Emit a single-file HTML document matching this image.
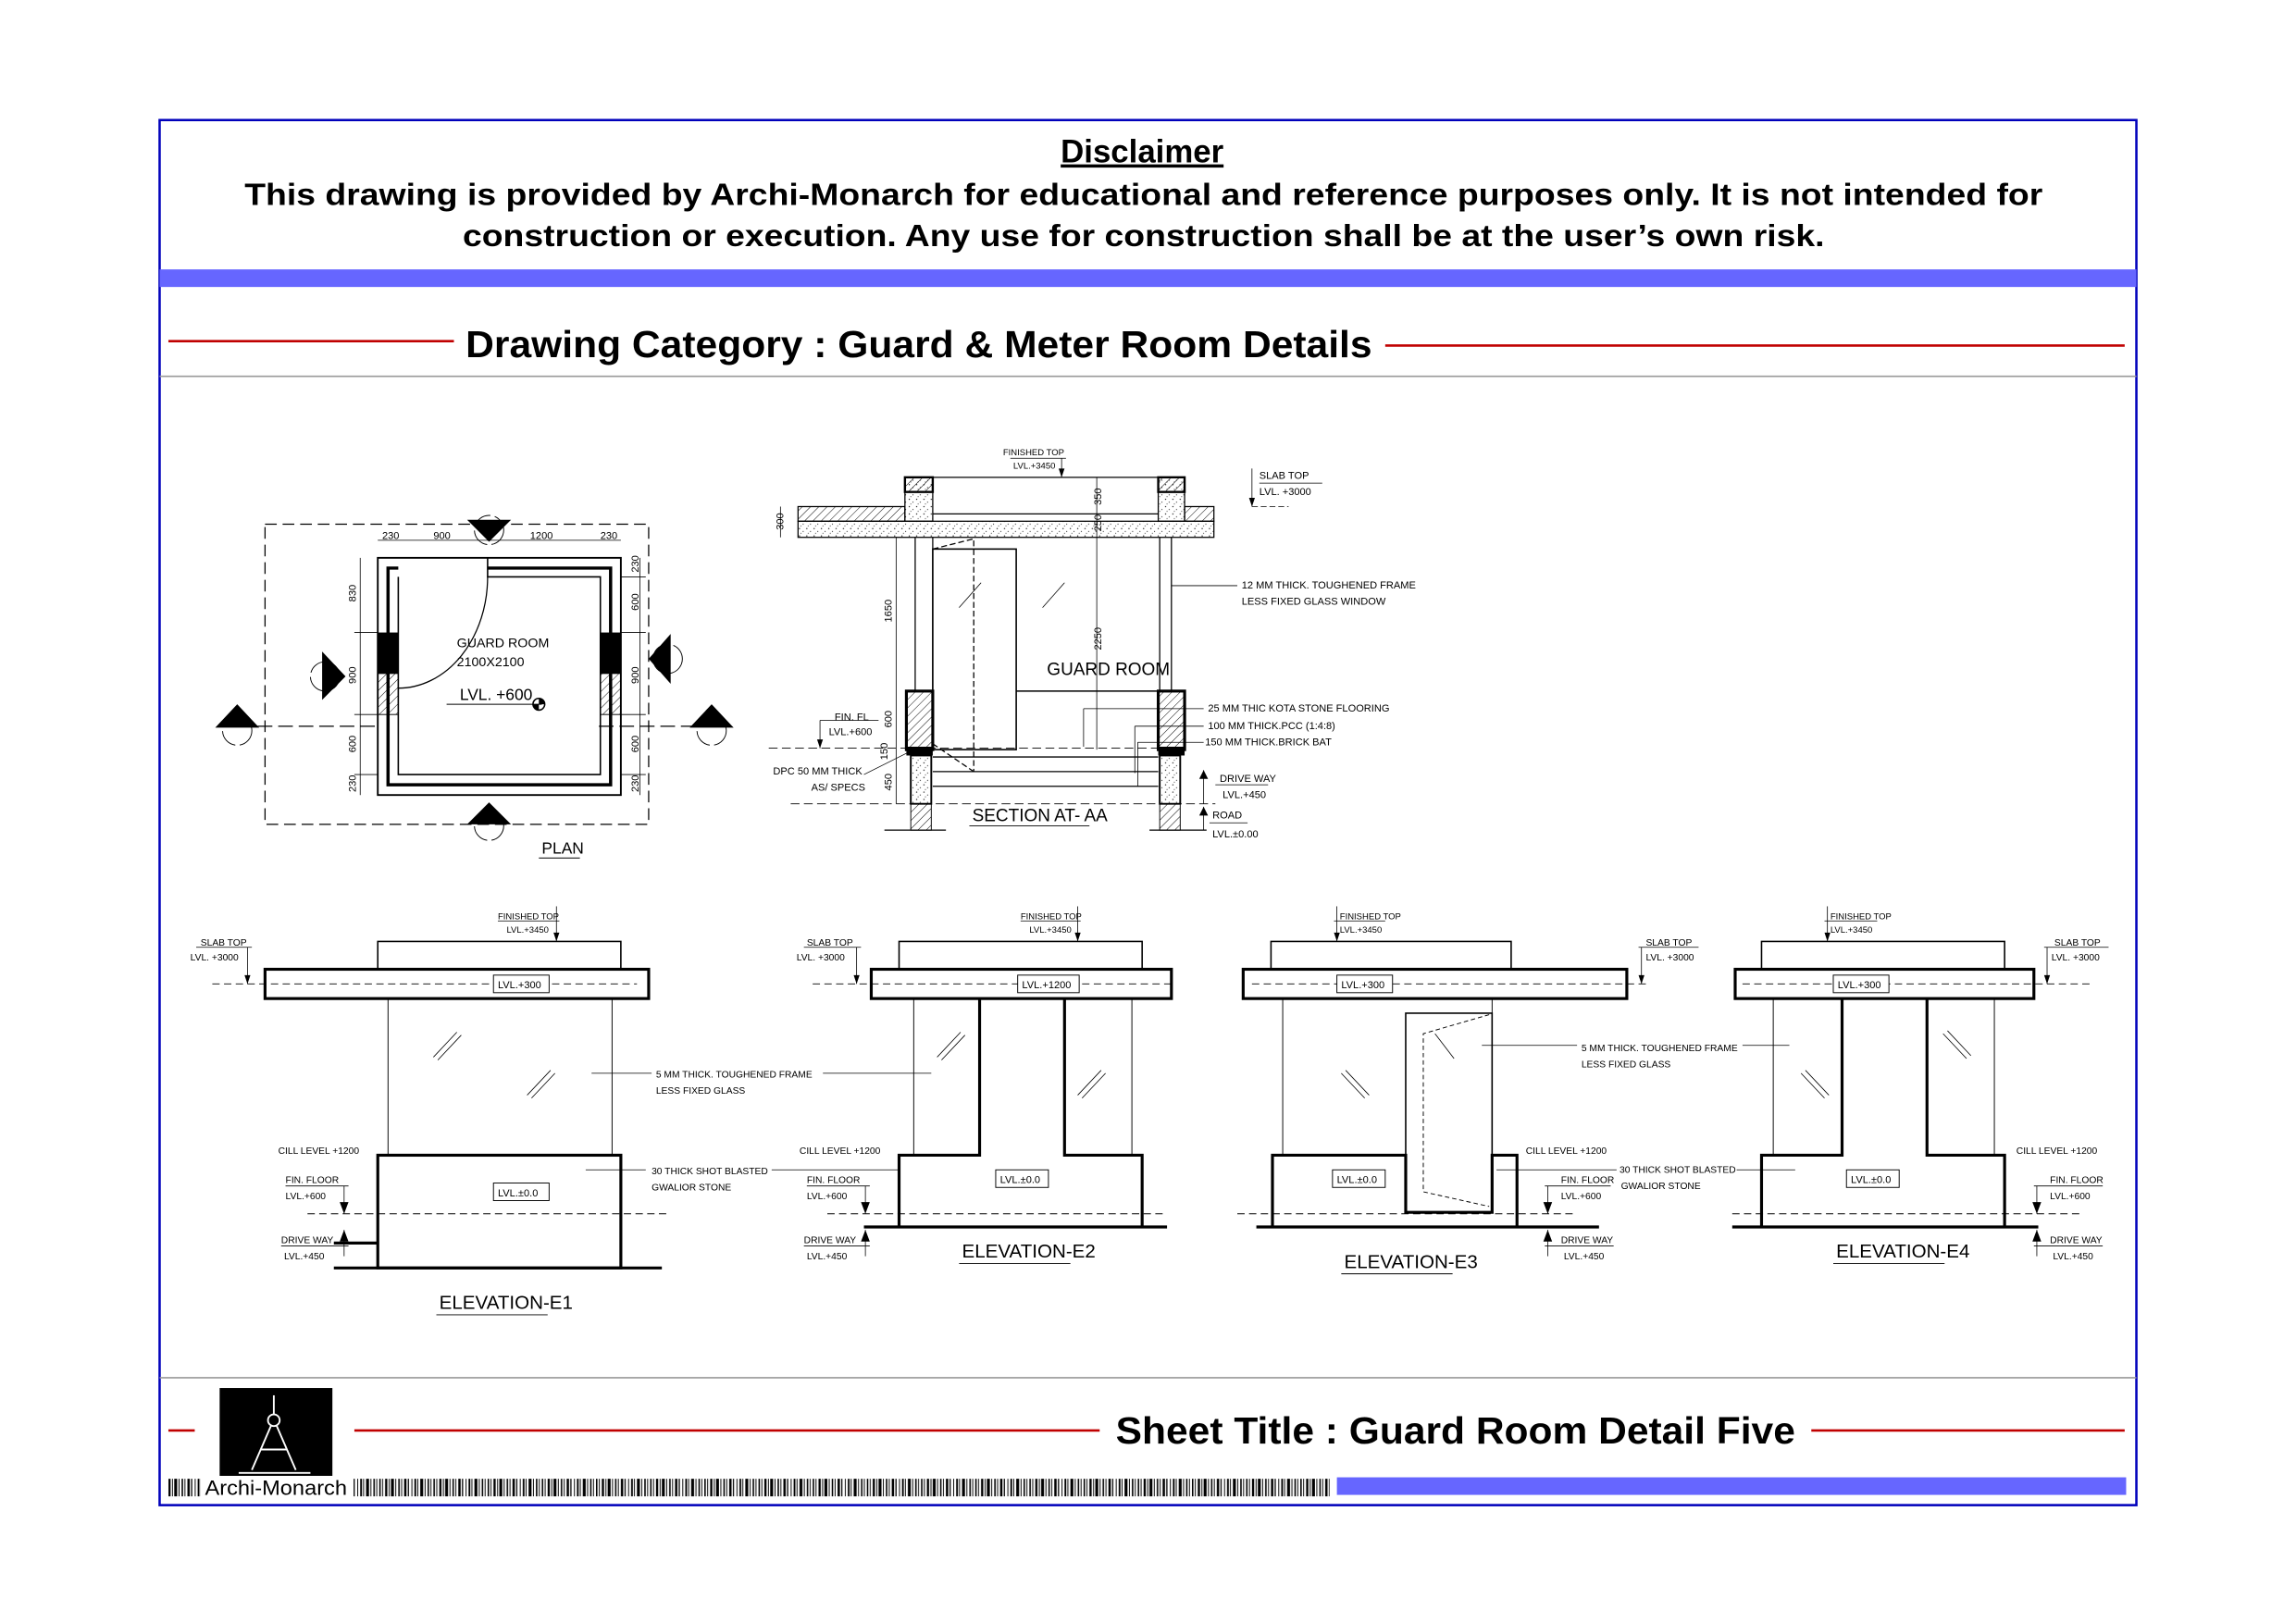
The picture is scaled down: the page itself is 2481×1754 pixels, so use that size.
<!DOCTYPE html>
<html><head><meta charset="utf-8"><style>
html,body{margin:0;padding:0;background:#fff;}
svg{display:block;}
text{font-family:"Liberation Sans Narrow","Liberation Sans",sans-serif;fill:#000;}
.b{font-family:"Liberation Sans",sans-serif;font-weight:bold;}
.s{font-size:7px;}
.m{font-size:9px;}
.l{font-size:12px;}
.k{stroke:#000;fill:none;}
</style></head><body>
<svg width="2481" height="1754" viewBox="0 0 1568 1108.5" preserveAspectRatio="none" xmlns="http://www.w3.org/2000/svg">
<defs>
<pattern id="h" width="4" height="4" patternUnits="userSpaceOnUse" patternTransform="rotate(45)"><line x1="0" y1="0" x2="0" y2="4" stroke="#000" stroke-width="0.6"/></pattern>
<pattern id="c" width="5" height="5" patternUnits="userSpaceOnUse"><circle cx="1" cy="1" r="0.4"/><circle cx="3.5" cy="3" r="0.35"/><circle cx="2" cy="4.2" r="0.3"/></pattern>
<pattern id="bc" width="37" height="12" patternUnits="userSpaceOnUse">
<rect x="0" width="1" height="12"/><rect x="2" width="0.6" height="12"/><rect x="4" width="1.5" height="12"/><rect x="6.5" width="0.6" height="12"/><rect x="8" width="2" height="12"/><rect x="11" width="0.6" height="12"/><rect x="13" width="1" height="12"/><rect x="15" width="0.6" height="12"/><rect x="17" width="1.6" height="12"/><rect x="19.5" width="0.8" height="12"/><rect x="22" width="0.6" height="12"/><rect x="24" width="1.2" height="12"/><rect x="26" width="0.6" height="12"/><rect x="28" width="2" height="12"/><rect x="31" width="0.6" height="12"/><rect x="33" width="1" height="12"/><rect x="35" width="0.6" height="12"/></pattern>
</defs>
<rect width="1568" height="1108.5" fill="#fff"/>
<!-- frame -->
<rect x="109" y="82" width="1350" height="946" fill="none" stroke="#0000bb" stroke-width="1.6"/>
<text x="780" y="111" class="b" font-size="22" text-anchor="middle" text-decoration="underline">Disclaimer</text>
<text x="781" y="140" class="b" font-size="21" text-anchor="middle" textLength="1228" lengthAdjust="spacingAndGlyphs">This drawing is provided by Archi-Monarch for educational and reference purposes only. It is not intended for</text>
<text x="781" y="168" class="b" font-size="21" text-anchor="middle" textLength="930" lengthAdjust="spacingAndGlyphs">construction or execution. Any use for construction shall be at the user’s own risk.</text>
<rect x="109" y="184" width="1350" height="12" fill="#6666ff"/>
<line x1="115" y1="233" x2="310" y2="233" stroke="#c00000" stroke-width="1.6"/>
<line x1="946" y1="236" x2="1451" y2="236" stroke="#c00000" stroke-width="1.6"/>
<text x="318" y="244" class="b" font-size="26" textLength="619" lengthAdjust="spacingAndGlyphs">Drawing Category : Guard &amp; Meter Room Details</text>
<line x1="109" y1="257" x2="1459" y2="257" stroke="#999" stroke-width="1"/>
<!-- bottom -->
<line x1="109" y1="941" x2="1459" y2="941" stroke="#999" stroke-width="1"/>
<rect x="150" y="948" width="77" height="60" fill="#000"/>
<g stroke="#fff" stroke-width="1.2" fill="none"><line x1="187" y1="953" x2="187" y2="966"/><circle cx="187" cy="970" r="4"/><line x1="185" y1="974" x2="172" y2="1004"/><line x1="189" y1="974" x2="202" y2="1004"/><line x1="178" y1="990" x2="196" y2="990"/><line x1="163" y1="1006" x2="212" y2="1006"/></g>
<line x1="115" y1="977" x2="133" y2="977" stroke="#c00000" stroke-width="1.6"/>
<line x1="242" y1="977" x2="751" y2="977" stroke="#c00000" stroke-width="1.6"/>
<line x1="1237" y1="977" x2="1451" y2="977" stroke="#c00000" stroke-width="1.6"/>
<text x="762" y="986" class="b" font-size="26" textLength="464" lengthAdjust="spacingAndGlyphs">Sheet Title : Guard Room Detail Five</text>
<rect x="115" y="1010" width="22" height="12" fill="url(#bc)"/>
<rect x="241" y="1010" width="667" height="12" fill="url(#bc)"/>
<text x="140" y="1021" font-size="14" textLength="97" lengthAdjust="spacingAndGlyphs">Archi-Monarch</text>
<rect x="913" y="1009" width="539" height="12" fill="#6666ff"/>

<!-- PLAN -->
<g stroke="#000" fill="none">
<rect x="181" y="358" width="262" height="205" stroke-dasharray="8,4" stroke-width="0.8"/>
<rect x="258" y="381" width="166" height="162" stroke-width="1.2"/>
<path d="M333 381 V394 H410 V529 H272 V394" stroke-width="1"/>
<path d="M333 388 H417 V536 H265 V388 H272" stroke-width="2.2"/>
<path d="M333 394 A61 76 0 0 1 272 470" stroke-width="0.8"/>
</g>
<rect x="258" y="432" width="14" height="28" fill="#000"/>
<rect x="410" y="432" width="14" height="28" fill="#000"/>
<rect x="258" y="460" width="14" height="28" fill="url(#h)" stroke="#000" stroke-width="0.6"/>
<rect x="410" y="460" width="14" height="28" fill="url(#h)" stroke="#000" stroke-width="0.6"/>
<g stroke="#000" stroke-width="0.5"><line x1="258" y1="369" x2="424" y2="369"/><line x1="246" y1="381" x2="246" y2="543"/><line x1="437" y1="381" x2="437" y2="543"/><line x1="242" y1="432" x2="258" y2="432"/><line x1="242" y1="488" x2="258" y2="488"/><line x1="242" y1="529" x2="258" y2="529"/><line x1="424" y1="394" x2="441" y2="394"/><line x1="424" y1="432" x2="441" y2="432"/><line x1="424" y1="488" x2="441" y2="488"/><line x1="424" y1="529" x2="441" y2="529"/></g>
<g class="s" font-size="7"><text x="261" y="368" font-size="7">230</text><text x="296" y="368" font-size="7">900</text><text x="362" y="368" font-size="7">1200</text><text x="410" y="368" font-size="7">230</text></g>
<g font-size="7"><text transform="translate(243,411) rotate(-90)">830</text><text transform="translate(243,467) rotate(-90)">900</text><text transform="translate(243,514) rotate(-90)">600</text><text transform="translate(243,541) rotate(-90)">230</text>
<text transform="translate(436,391) rotate(-90)">230</text><text transform="translate(436,417) rotate(-90)">600</text><text transform="translate(436,467) rotate(-90)">900</text><text transform="translate(436,514) rotate(-90)">600</text><text transform="translate(436,541) rotate(-90)">230</text></g>
<text x="312" y="442" class="m">GUARD ROOM</text><text x="312" y="455" class="m">2100X2100</text>
<text x="314" y="478" font-size="11">LVL. +600</text><line x1="305" y1="481" x2="370" y2="481" stroke="#000" stroke-width="0.6"/>
<circle cx="368" cy="481" r="4" fill="none" stroke="#000"/><path d="M368 477 A4 4 0 0 1 372 481 H368Z M368 485 A4 4 0 0 1 364 481 H368Z"/>
<text x="370" y="583" font-size="11">PLAN</text><line x1="368" y1="586" x2="396" y2="586" stroke="#000" stroke-width="0.6"/>
<g stroke="#000" stroke-width="0.8" stroke-dasharray="10,4" fill="none"><line x1="176" y1="496" x2="258" y2="496"/><line x1="409" y1="496" x2="480" y2="496"/></g>
<!-- markers -->
<g font-size="6" font-weight="bold" text-anchor="middle">
<path d="M147 497 L162 481 L177 497Z"/><circle cx="162" cy="499" r="10" fill="none" stroke="#000" stroke-width="0.6" stroke-dasharray="14,3"/><text x="162" y="495" fill="#fff">A</text>
<path d="M471 497 L486 481 L501 497Z"/><circle cx="486" cy="499" r="10" fill="none" stroke="#000" stroke-width="0.6" stroke-dasharray="14,3"/><text x="486" y="495" fill="#fff">A</text>
<path d="M319 355 L349 355 L334 370Z"/><circle cx="334" cy="362" r="10" fill="none" stroke="#000" stroke-width="0.6" stroke-dasharray="14,3"/><text x="334" y="362" fill="#fff">E-3</text>
<path d="M319 563 L349 563 L334 548Z"/><circle cx="334" cy="564" r="10" fill="none" stroke="#000" stroke-width="0.6" stroke-dasharray="14,3"/><text x="334" y="560" fill="#fff">E-1</text>
<path d="M220 445 L220 478 L236 462Z"/><circle cx="222" cy="462" r="10" fill="none" stroke="#000" stroke-width="0.6" stroke-dasharray="14,3"/><text transform="translate(227,462) rotate(90)" fill="#fff">E-2</text>
<path d="M458 433 L458 467 L443 450Z"/><circle cx="456" cy="450" r="10" fill="none" stroke="#000" stroke-width="0.6" stroke-dasharray="14,3"/><text transform="translate(452,450) rotate(-90)" fill="#fff">E-4</text>
</g>

<!-- SECTION -->
<rect x="545" y="346" width="73" height="10" fill="url(#h)" stroke="#000" stroke-width="0.8"/>
<rect x="809" y="346" width="20" height="10" fill="url(#h)" stroke="#000" stroke-width="0.8"/>
<rect x="545" y="356" width="284" height="11" fill="url(#c)" stroke="#000" stroke-width="0.8"/>
<rect x="618" y="326" width="19" height="30" fill="url(#c)" stroke="#000" stroke-width="0.8"/>
<rect x="791" y="326" width="18" height="30" fill="url(#c)" stroke="#000" stroke-width="0.8"/>
<rect x="618" y="326" width="19" height="10" fill="url(#h)" stroke="#000" stroke-width="1.5"/>
<rect x="791" y="326" width="18" height="10" fill="url(#h)" stroke="#000" stroke-width="1.5"/>
<g stroke="#000" fill="none" stroke-width="0.8">
<line x1="637" y1="326" x2="791" y2="326"/><line x1="637" y1="351" x2="791" y2="351"/>
<line x1="625" y1="367" x2="625" y2="472"/><line x1="637" y1="367" x2="637" y2="472"/>
<line x1="792" y1="367" x2="792" y2="472"/><line x1="800" y1="367" x2="800" y2="472"/>
<rect x="637" y="375" width="57" height="137" stroke-width="1"/>
<line x1="694" y1="472" x2="791" y2="472" stroke-width="1"/>
<line x1="637" y1="517" x2="791" y2="517"/><line x1="637" y1="527" x2="791" y2="527"/><line x1="637" y1="537" x2="791" y2="537"/>
<path d="M637 375 L665 368 V527" stroke-dasharray="4,2"/><path d="M637 508 L665 527" stroke-dasharray="4,2"/>
<line x1="525" y1="511" x2="791" y2="511" stroke-dasharray="6,3" stroke-width="0.6"/>
<line x1="540" y1="549" x2="830" y2="549" stroke-dasharray="6,3" stroke-width="0.6"/>
</g>
<rect x="619" y="472" width="18" height="40" fill="url(#h)" stroke="#000" stroke-width="2"/>
<rect x="791" y="472" width="18" height="40" fill="url(#h)" stroke="#000" stroke-width="2"/>
<rect x="619" y="510" width="18" height="6" fill="#000"/><rect x="791" y="510" width="18" height="6" fill="#000"/>
<rect x="622" y="516" width="14" height="33" fill="url(#c)" stroke="#000" stroke-width="1.2"/>
<rect x="792" y="516" width="14" height="33" fill="url(#c)" stroke="#000" stroke-width="1.2"/>
<rect x="622" y="549" width="14" height="18" fill="url(#h)" stroke="#000" stroke-width="0.6"/>
<rect x="792" y="549" width="14" height="18" fill="url(#h)" stroke="#000" stroke-width="0.6"/>
<line x1="604" y1="567" x2="646" y2="567" stroke="#000" stroke-width="0.8"/><line x1="785" y1="567" x2="824" y2="567" stroke="#000" stroke-width="0.8"/>
<g stroke="#000" stroke-width="0.5"><line x1="612" y1="367" x2="612" y2="549"/><line x1="749" y1="326" x2="749" y2="512"/><line x1="533" y1="346" x2="533" y2="367"/>
<line x1="800" y1="400" x2="845" y2="400"/><line x1="740" y1="484" x2="822" y2="484"/><line x1="740" y1="484" x2="740" y2="510"/><line x1="775" y1="496" x2="822" y2="496"/><line x1="775" y1="496" x2="775" y2="528"/><line x1="777" y1="507" x2="822" y2="507"/><line x1="777" y1="507" x2="777" y2="537"/>
<line x1="725" y1="313" x2="725" y2="326"/><line x1="690" y1="313" x2="728" y2="313"/><line x1="860" y1="330" x2="903" y2="330"/><line x1="855" y1="320" x2="855" y2="346"/><line x1="855" y1="346" x2="880" y2="346" stroke-dasharray="4,2"/>
<line x1="560" y1="492" x2="600" y2="492"/><line x1="560" y1="492" x2="560" y2="511"/><line x1="822" y1="526" x2="822" y2="549"/><line x1="830" y1="536" x2="866" y2="536"/><line x1="822" y1="551" x2="822" y2="567"/><line x1="826" y1="562" x2="852" y2="562"/><line x1="590" y1="529" x2="620" y2="514"/></g>
<g font-size="7">
<text x="685" y="311" font-size="6">FINISHED TOP</text><text x="692" y="320" font-size="6">LVL.+3450</text>
<text x="860" y="327">SLAB TOP</text><text x="860" y="338">LVL. +3000</text>
<text transform="translate(535,362) rotate(-90)">300</text><text transform="translate(609,425) rotate(-90)">1650</text><text transform="translate(609,497) rotate(-90)">600</text><text transform="translate(606,519) rotate(-90)">150</text><text transform="translate(609,540) rotate(-90)">450</text>
<text transform="translate(752,345) rotate(-90)">350</text><text transform="translate(752,363) rotate(-90)">250</text><text transform="translate(752,444) rotate(-90)">2250</text>
<text x="848" y="402">12 MM THICK. TOUGHENED FRAME</text><text x="848" y="413">LESS FIXED GLASS WINDOW</text>
<text x="825" y="486">25 MM THIC KOTA STONE FLOORING</text><text x="825" y="498">100 MM THICK.PCC (1:4:8)</text><text x="823" y="509">150 MM THICK.BRICK BAT</text>
<text x="833" y="534">DRIVE WAY</text><text x="835" y="545">LVL.+450</text><text x="828" y="559">ROAD</text><text x="828" y="572">LVL.±0.00</text>
<text x="570" y="492">FIN. FL</text><text x="566" y="502">LVL.+600</text><text x="528" y="529">DPC 50 MM THICK</text><text x="554" y="540">AS/ SPECS</text>
</g>
<text x="715" y="461" class="l">GUARD ROOM</text>
<text x="664" y="561" class="l">SECTION AT- AA</text><line x1="662" y1="564" x2="744" y2="564" stroke="#000" stroke-width="0.6"/>

<!-- ELEVATIONS -->
<g stroke="#000" fill="none">
<!-- E1 -->
<rect x="258" y="643" width="166" height="19" stroke-width="1"/>
<rect x="181" y="662" width="262" height="20" stroke-width="2"/>
<line x1="265" y1="682" x2="265" y2="789" stroke-width="0.6"/><line x1="418" y1="682" x2="418" y2="789" stroke-width="0.6"/>
<rect x="258" y="789" width="166" height="77" stroke-width="2"/>
<line x1="228" y1="866" x2="452" y2="866" stroke-width="2"/><line x1="228" y1="849" x2="258" y2="849" stroke-width="2"/>
<line x1="145" y1="672" x2="435" y2="672" stroke-dasharray="5,3" stroke-width="0.6"/><line x1="210" y1="829" x2="455" y2="829" stroke-dasharray="5,3" stroke-width="0.6"/>
<!-- E2 -->
<rect x="614" y="643" width="166" height="19" stroke-width="1"/>
<rect x="595" y="662" width="205" height="20" stroke-width="2"/>
<line x1="624" y1="682" x2="624" y2="789" stroke-width="0.6"/><line x1="773" y1="682" x2="773" y2="789" stroke-width="0.6"/>
<path d="M614 838 V789 H669 V682 M727 682 V789 H780 V838" stroke-width="2"/>
<line x1="590" y1="838" x2="797" y2="838" stroke-width="2"/>
<line x1="555" y1="672" x2="800" y2="672" stroke-dasharray="5,3" stroke-width="0.6"/><line x1="565" y1="829" x2="797" y2="829" stroke-dasharray="5,3" stroke-width="0.6"/>
<!-- E3 -->
<rect x="868" y="643" width="164" height="19" stroke-width="1"/>
<rect x="849" y="662" width="262" height="20" stroke-width="2"/>
<line x1="876" y1="682" x2="876" y2="789" stroke-width="0.6"/><line x1="1019" y1="682" x2="1019" y2="789" stroke-width="0.6"/>
<rect x="960" y="692" width="59" height="136" stroke-width="1"/>
<path d="M869 838 V789 H960 V828 H1019 V789 H1036 V838" stroke-width="2"/>
<line x1="858" y1="838" x2="1092" y2="838" stroke-width="2"/>
<path d="M1017 693 L972 706 V814 L1017 824" stroke-dasharray="3,2" stroke-width="0.6"/>
<line x1="855" y1="672" x2="1125" y2="672" stroke-dasharray="5,3" stroke-width="0.6"/><line x1="845" y1="829" x2="1075" y2="829" stroke-dasharray="5,3" stroke-width="0.6"/>
<!-- E4 -->
<rect x="1203" y="643" width="166" height="19" stroke-width="1"/>
<rect x="1185" y="662" width="204" height="20" stroke-width="2"/>
<line x1="1211" y1="682" x2="1211" y2="789" stroke-width="0.6"/><line x1="1362" y1="682" x2="1362" y2="789" stroke-width="0.6"/>
<path d="M1203 838 V789 H1258 V682 M1316 682 V789 H1369 V838" stroke-width="2"/>
<line x1="1183" y1="838" x2="1392" y2="838" stroke-width="2"/>
<line x1="1190" y1="672" x2="1430" y2="672" stroke-dasharray="5,3" stroke-width="0.6"/><line x1="1183" y1="829" x2="1420" y2="829" stroke-dasharray="5,3" stroke-width="0.6"/>
<!-- glass ticks -->
<g stroke-width="0.5"><path d="M296 722 L312 705 M299 724 L315 707 M360 748 L376 731 M363 750 L379 733 M640 722 L656 705 M643 724 L659 707 M736 748 L752 731 M739 750 L755 733 M916 733 L932 750 M919 731 L935 748 M980 706 L993 723 M1230 733 L1246 750 M1233 731 L1249 748 M1327 706 L1343 723 M1330 704 L1346 721 M655 415 L670 398 M712 415 L727 398"/></g>
<!-- leaders -->
<g stroke-width="0.5"><line x1="404" y1="733" x2="445" y2="733"/><line x1="562" y1="733" x2="636" y2="733"/><line x1="400" y1="799" x2="441" y2="799"/><line x1="527" y1="799" x2="614" y2="799"/>
<line x1="1012" y1="714" x2="1077" y2="714"/><line x1="1190" y1="714" x2="1222" y2="714"/><line x1="1022" y1="799" x2="1104" y2="799"/><line x1="1186" y1="799" x2="1226" y2="799"/>
<line x1="380" y1="619" x2="380" y2="643"/><line x1="340" y1="629" x2="382" y2="629"/><line x1="736" y1="619" x2="736" y2="643"/><line x1="697" y1="629" x2="738" y2="629"/><line x1="913" y1="619" x2="913" y2="643"/><line x1="911" y1="629" x2="946" y2="629"/><line x1="1248" y1="619" x2="1248" y2="643"/><line x1="1246" y1="629" x2="1282" y2="629"/>
<line x1="169" y1="647" x2="169" y2="672"/><line x1="134" y1="647" x2="172" y2="647"/><line x1="585" y1="647" x2="585" y2="672"/><line x1="549" y1="647" x2="588" y2="647"/><line x1="1121" y1="647" x2="1121" y2="672"/><line x1="1119" y1="647" x2="1160" y2="647"/><line x1="1398" y1="647" x2="1398" y2="672"/><line x1="1396" y1="647" x2="1440" y2="647"/>
<line x1="235" y1="810" x2="235" y2="829"/><line x1="195" y1="810" x2="238" y2="810"/><line x1="591" y1="810" x2="591" y2="829"/><line x1="551" y1="810" x2="594" y2="810"/><line x1="1057" y1="810" x2="1057" y2="829"/><line x1="1055" y1="810" x2="1100" y2="810"/><line x1="1391" y1="810" x2="1391" y2="829"/><line x1="1389" y1="810" x2="1436" y2="810"/>
<line x1="235" y1="840" x2="235" y2="858"/><line x1="192" y1="851" x2="238" y2="851"/><line x1="591" y1="840" x2="591" y2="858"/><line x1="549" y1="851" x2="594" y2="851"/><line x1="1057" y1="840" x2="1057" y2="858"/><line x1="1055" y1="851" x2="1102" y2="851"/><line x1="1391" y1="840" x2="1391" y2="858"/><line x1="1389" y1="851" x2="1436" y2="851"/></g>
</g>
<!-- arrowheads -->
<g><path d="M378 637 L382 637 L380 643Z M734 637 L738 637 L736 643Z M911 637 L915 637 L913 643Z M1246 637 L1250 637 L1248 643Z M167 666 L171 666 L169 672Z M583 666 L587 666 L585 672Z M1119 666 L1123 666 L1121 672Z M1396 666 L1400 666 L1398 672Z M232 821 L238 821 L235 829Z M588 821 L594 821 L591 829Z M1054 821 L1060 821 L1057 829Z M1388 821 L1394 821 L1391 829Z M232 848 L238 848 L235 840Z M588 848 L594 848 L591 840Z M1054 848 L1060 848 L1057 840Z M1388 848 L1394 848 L1391 840Z M723 320 L727 320 L725 326Z M853 340 L857 340 L855 346Z M558 505 L562 505 L560 511Z M819 532 L825 532 L822 526Z M819 557 L825 557 L822 551Z"/></g>
<g font-size="6.5">
<text x="137" y="646">SLAB TOP</text><text x="130" y="656">LVL. +3000</text><text x="340" y="628" font-size="6">FINISHED TOP</text><text x="346" y="637" font-size="6">LVL.+3450</text>
<text x="190" y="788">CILL LEVEL +1200</text><text x="195" y="808">FIN. FLOOR</text><text x="195" y="819">LVL.+600</text><text x="192" y="849">DRIVE WAY</text><text x="194" y="860">LVL.+450</text>
<text x="448" y="736">5 MM THICK. TOUGHENED FRAME</text><text x="448" y="747">LESS FIXED GLASS</text><text x="445" y="802">30 THICK SHOT BLASTED</text><text x="445" y="813">GWALIOR STONE</text>
<text x="551" y="646">SLAB TOP</text><text x="544" y="656">LVL. +3000</text><text x="697" y="628" font-size="6">FINISHED TOP</text><text x="703" y="637" font-size="6">LVL.+3450</text>
<text x="546" y="788">CILL LEVEL +1200</text><text x="551" y="808">FIN. FLOOR</text><text x="551" y="819">LVL.+600</text><text x="549" y="849">DRIVE WAY</text><text x="551" y="860">LVL.+450</text>
<text x="915" y="628" font-size="6">FINISHED TOP</text><text x="915" y="637" font-size="6">LVL.+3450</text><text x="1124" y="646">SLAB TOP</text><text x="1124" y="656">LVL. +3000</text>
<text x="1042" y="788">CILL LEVEL +1200</text><text x="1066" y="808">FIN. FLOOR</text><text x="1066" y="819">LVL.+600</text><text x="1066" y="849">DRIVE WAY</text><text x="1068" y="860">LVL.+450</text>
<text x="1080" y="718">5 MM THICK. TOUGHENED FRAME</text><text x="1080" y="729">LESS FIXED GLASS</text><text x="1106" y="801">30 THICK SHOT BLASTED</text><text x="1107" y="812">GWALIOR STONE</text>
<text x="1250" y="628" font-size="6">FINISHED TOP</text><text x="1250" y="637" font-size="6">LVL.+3450</text><text x="1403" y="646">SLAB TOP</text><text x="1401" y="656">LVL. +3000</text>
<text x="1377" y="788">CILL LEVEL +1200</text><text x="1400" y="808">FIN. FLOOR</text><text x="1400" y="819">LVL.+600</text><text x="1400" y="849">DRIVE WAY</text><text x="1402" y="860">LVL.+450</text>
</g>
<g font-size="7" stroke-width="0.6">
<rect x="337" y="666" width="38" height="12" fill="#fff" stroke="#000" stroke-width="0.6"/><text x="340" y="675">LVL.+300</text>
<rect x="337" y="808" width="38" height="12" fill="#fff" stroke="#000" stroke-width="0.6"/><text x="340" y="817">LVL.±0.0</text>
<rect x="695" y="666" width="42" height="12" fill="#fff" stroke="#000" stroke-width="0.6"/><text x="698" y="675">LVL.+1200</text>
<rect x="680" y="799" width="36" height="12" fill="#fff" stroke="#000" stroke-width="0.6"/><text x="683" y="808">LVL.±0.0</text>
<rect x="913" y="666" width="38" height="12" fill="#fff" stroke="#000" stroke-width="0.6"/><text x="916" y="675">LVL.+300</text>
<rect x="910" y="799" width="36" height="12" fill="#fff" stroke="#000" stroke-width="0.6"/><text x="913" y="808">LVL.±0.0</text>
<rect x="1252" y="666" width="38" height="12" fill="#fff" stroke="#000" stroke-width="0.6"/><text x="1255" y="675">LVL.+300</text>
<rect x="1261" y="799" width="36" height="12" fill="#fff" stroke="#000" stroke-width="0.6"/><text x="1264" y="808">LVL.±0.0</text>
</g>
<g font-size="13">
<text x="300" y="894">ELEVATION-E1</text><line x1="298" y1="898" x2="374" y2="898" stroke="#000" stroke-width="0.6"/>
<text x="657" y="859">ELEVATION-E2</text><line x1="655" y1="863" x2="731" y2="863" stroke="#000" stroke-width="0.6"/>
<text x="918" y="866">ELEVATION-E3</text><line x1="916" y1="870" x2="992" y2="870" stroke="#000" stroke-width="0.6"/>
<text x="1254" y="859">ELEVATION-E4</text><line x1="1252" y1="863" x2="1328" y2="863" stroke="#000" stroke-width="0.6"/>
</g>
</svg>
</body></html>
